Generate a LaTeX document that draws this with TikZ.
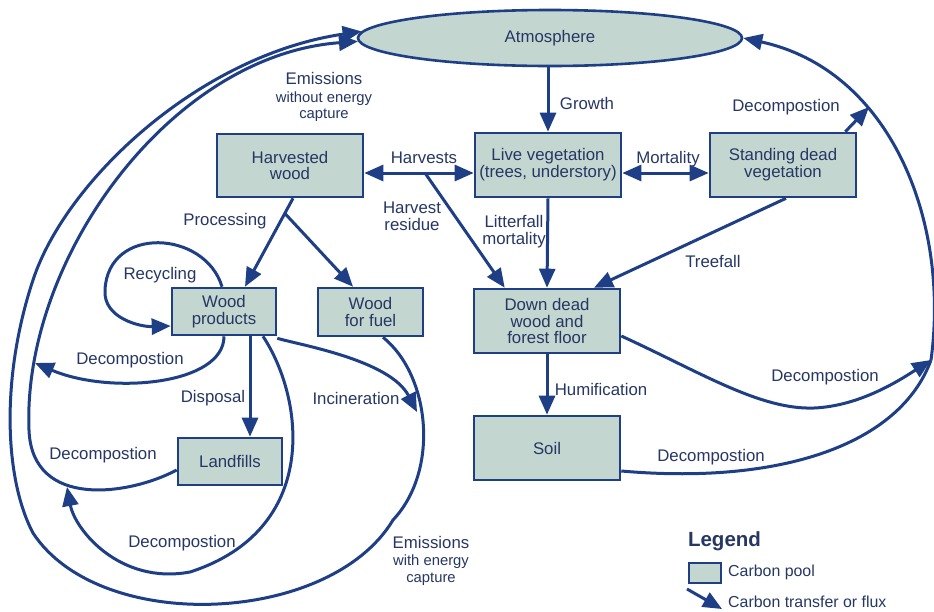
\documentclass[tikz,border=0pt]{standalone}
\usepackage{fontspec}
\setmainfont{Liberation Sans}
\usetikzlibrary{arrows.meta,shapes.geometric}
\definecolor{ln}{RGB}{30,63,133}
\definecolor{fl}{RGB}{196,214,208}
\definecolor{tx}{RGB}{38,55,100}
\begin{document}
\begin{tikzpicture}[x=1pt,y=-1pt,
  pool/.style={draw=ln, fill=fl, line width=2.6pt, text=tx, align=center, inner sep=0pt,
    font=\fontsize{16.8}{16.7}\selectfont},
  flow/.style={draw=ln, line width=3pt, -{Triangle[length=19pt,width=16pt]}},
  flowtwo/.style={draw=ln, line width=3pt, {Triangle[length=19pt,width=16pt]}-{Triangle[length=19pt,width=16pt]}},
  plainflow/.style={draw=ln, line width=3pt},
  lbl/.style={text=tx, font=\fontsize{16.8}{17}\selectfont, align=center, inner sep=0pt},
  lblsmall/.style={text=tx, font=\fontsize{14.8}{16.5}\selectfont, align=center, inner sep=0pt},
  lbllegend/.style={text=tx, font=\fontsize{15.9}{17}\selectfont, inner sep=0pt, anchor=west}]
\fill[white] (0,0) rectangle (934,611);
\useasboundingbox (0,0) rectangle (934,611);

% pools
\node[pool, ellipse, minimum width=384pt, minimum height=56pt] (atm) at (550,38) {Atmosphere};
\node[pool, minimum width=146pt, minimum height=63pt] (hw) at (290,165.5) {Harvested\\wood};
\node[pool, minimum width=146pt, minimum height=64pt] (lv) at (548,165) {Live vegetation\\(trees, understory)};
\node[pool, minimum width=146pt, minimum height=64pt] (sd) at (783,165) {Standing dead\\vegetation};
\node[pool, minimum width=104pt, minimum height=47pt] (wp) at (224,311.5) {Wood\\products};
\node[pool, minimum width=105pt, minimum height=48pt] (wf) at (370.5,312) {Wood\\for fuel};
\node[pool, minimum width=104pt, minimum height=47pt] (lf) at (230,461.5) {Landfills};
\node[pool, minimum width=146pt, minimum height=64pt] (dd) at (547,321) {Down dead\\wood and\\forest floor};
\node[pool, minimum width=146pt, minimum height=64pt] (soil) at (547,448) {Soil};

% helper coordinates
\coordinate (hb) at (425,173);
\coordinate (mb) at (665,173);
\coordinate (jr) at (931,360);
\coordinate (jt) at (869,107);
\coordinate (pb) at (284.5,213);
\coordinate (da) at (35,363);
\coordinate (ld) at (67,487);
\coordinate (ie) at (417,412);
\coordinate (ia) at (29,430);
\coordinate (oa) at (393,520);
\coordinate (ob) at (33,533);
\coordinate (oc) at (33,280);
\coordinate (lb) at (190,572);

% right side flows
\draw[flow] (lv.north |- atm.south) -- (lv.north);
\draw[flow] (hb) -- (hw.east |- hb);
\draw[flow] (hb) -- (lv.west |- hb);
\draw[flow] (hb) -- ([xshift=32pt]dd.north west);
\draw[flow] (lv.south) -- (dd.north);
\draw[flowtwo] (lv.east |- mb) -- (sd.west |- mb);
\draw[flow] ([xshift=3pt]sd.south) -- ([xshift=47pt]dd.north);
\draw[flow] ([xshift=-12pt]sd.north east) -- (jt);
\draw[flow] (jr) .. controls (950,220) and (890,70) .. (atm.east);
\draw[flow] ([yshift=-15pt]dd.east) .. controls (700,372) and (760,410) .. (814,408)
   .. controls (860,406) and (900,380) .. (jr);
\draw[plainflow] ([yshift=-23pt]soil.east) .. controls (780,485) and (900,445) .. (jr);
\draw[flow] (dd.south) -- (soil.north);

% left side flows
\draw[flow] ([xshift=3pt]hw.south) -- ([xshift=21pt]wp.north);
\draw[flow] (pb) -- ([xshift=-17.5pt]wf.north);
\draw[flow] ([xshift=-2pt]wp.north) .. controls (205,230) and (108,225) .. (105,290)
   .. controls (103,318) and (140,327) .. ([yshift=-14.5pt]wp.west);
\draw[flow] (wp.south) .. controls (224,385) and (110,395) .. (da);
\draw[flow] ([xshift=26pt]wp.south) -- ([xshift=20pt]lf.north);
\draw[flow] ([yshift=-8.5pt]lf.west) .. controls (130,495) and (32,510) .. (ia)
   .. controls (22,260) and (170,55) .. (atm.181.7);
\draw[flow] ([xshift=39pt]wp.south) .. controls (305,400) and (320,530) .. (lb)
   .. controls (120,585) and (75,530) .. (ld);
\draw[flow] ([yshift=-2pt]wp.south east) .. controls (300,345) and (390,360) .. (ie);
\draw[flow] ([xshift=12.5pt]wf.south) .. controls (430,375) and (440,470) .. (oa)
   .. controls (330,625) and (100,635) .. (ob)
   .. controls (5,480) and (0,380) .. (oc)
   .. controls (66,180) and (200,55) .. (atm.178.3);

% labels
\node[lbl] (lgrowth) at (587,103) {Growth};
\node[lbl] (lharv) at (424,158) {Harvests};
\node[lbl] (lres) at (412,216) {Harvest\\residue};
\node[lbl] (llit) at (514,232) {Litterfall\\mortality};
\node[lbl] (lmort) at (668,159) {Mortality};
\node[lbl] (ldecsd) at (786,107) {Decompostion};
\node[lbl] (ltree) at (713,261) {Treefall};
\node[lbl] (lhum) at (601,389) {Humification};
\node[lbl] (ldecdd) at (825,377) {Decompostion};
\node[lbl] (ldecsoil) at (711,457) {Decompostion};
\node[lbl] (lproc) at (225,221) {Processing};
\node[lbl] (lrec) at (160,275) {Recycling};
\node[lbl] (ldecwp) at (130,360) {Decompostion};
\node[lbl] (ldisp) at (213,398) {Disposal};
\node[lbl] (linc) at (356,398) {Incineration};
\node[lbl] (ldeclf) at (103,455) {Decompostion};
\node[lbl] (ldecbot) at (182,543) {Decompostion};
\node[lbl, anchor=base] (lemA) at (324,84) {Emissions};
\node[lblsmall, anchor=base] (lemB) at (324,102) {without energy};
\node[lblsmall, anchor=base] (lemC) at (324,118) {capture};
\node[lbl, anchor=base] (lemD) at (431,548) {Emissions};
\node[lblsmall, anchor=base] (lemE) at (431,565) {with energy};
\node[lblsmall, anchor=base] (lemF) at (431,582) {capture};

% legend
\node[text=tx, font=\fontsize{20.5}{22}\bfseries, inner sep=0pt] (lleg) at (724.5,541) {Legend};
\node[pool, minimum width=32pt, minimum height=20pt] (lgbox) at (705,573) {};
\node[lbllegend] (lgpool) at (728,572) {Carbon pool};
\coordinate (lgA) at (687,589);
\coordinate (lgB) at (722,609);
\draw[flow] (lgA) -- (lgB);
\node[lbllegend] (lgflux) at (728,602) {Carbon transfer or flux};
\end{tikzpicture}
\end{document}
